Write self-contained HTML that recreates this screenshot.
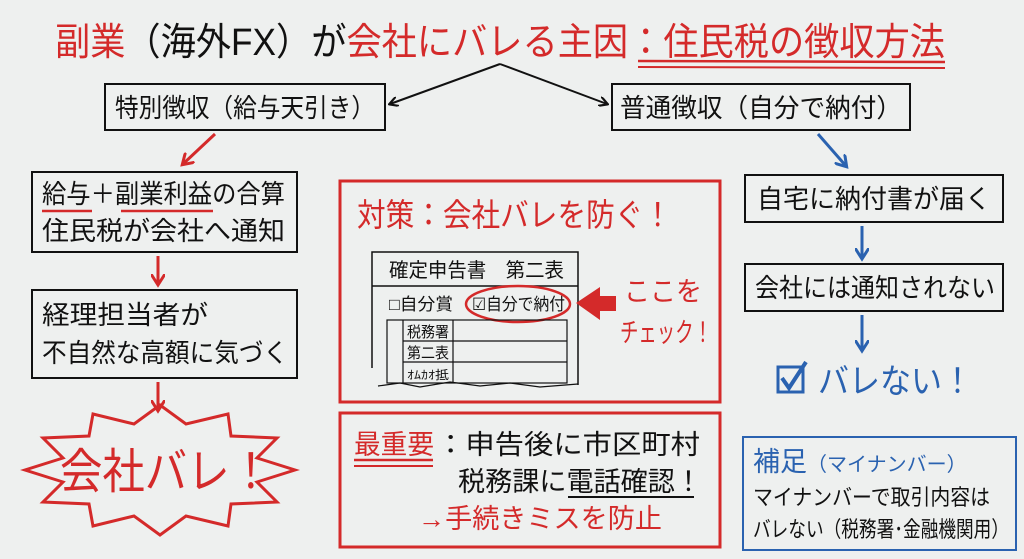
<!DOCTYPE html>
<html><head><meta charset="utf-8"><style>
html,body{margin:0;padding:0;background:#eef0ef;}
svg{display:block;}
text{font-family:"Liberation Sans","Noto Sans CJK JP",sans-serif;}
</style></head><body>
<svg width="1024" height="559" viewBox="0 0 1024 559" xmlns="http://www.w3.org/2000/svg">
<defs>
<marker id="ak" markerWidth="10" markerHeight="10" refX="8" refY="5" orient="auto" markerUnits="userSpaceOnUse"><path d="M0,0 L9,5 L0,10" fill="none" stroke="#111" stroke-width="2.2"/></marker>
<marker id="ar" markerWidth="14" markerHeight="14" refX="10" refY="7" orient="auto" markerUnits="userSpaceOnUse"><path d="M0,0 L11,7 L0,14" fill="none" stroke="#d42a2a" stroke-width="3"/></marker>
<marker id="ab" markerWidth="14" markerHeight="14" refX="10" refY="7" orient="auto" markerUnits="userSpaceOnUse"><path d="M0,0 L11,7 L0,14" fill="none" stroke="#2a62b0" stroke-width="3"/></marker>
</defs>
<rect width="1024" height="559" fill="#eef0ef"/>
<!-- title -->
<text x="55" y="55" font-size="38" textLength="890" lengthAdjust="spacingAndGlyphs"><tspan fill="#d42a2a">副業</tspan><tspan fill="#111">（海外FX）が</tspan><tspan fill="#d42a2a">会社にバレる主因：住民税の徴収方法</tspan></text>
<line x1="638" y1="61" x2="945" y2="62" stroke="#d42a2a" stroke-width="2.5"/>
<line x1="638" y1="67" x2="945" y2="68" stroke="#d42a2a" stroke-width="2"/>
<!-- top arrows -->
<line x1="500" y1="64" x2="390" y2="104" stroke="#111" stroke-width="2" marker-end="url(#ak)"/>
<line x1="500" y1="64" x2="607" y2="104" stroke="#111" stroke-width="2" marker-end="url(#ak)"/>
<rect x="105" y="84" width="280" height="46" fill="none" stroke="#111" stroke-width="2"/>
<text x="115" y="117" font-size="26" textLength="260" lengthAdjust="spacingAndGlyphs" fill="#111">特別徴収（給与天引き）</text>
<rect x="612" y="84" width="298" height="46" fill="none" stroke="#111" stroke-width="2"/>
<text x="620" y="117" font-size="26" textLength="282" lengthAdjust="spacingAndGlyphs" fill="#111">普通徴収（自分で納付）</text>
<!-- left column -->
<line x1="215" y1="134" x2="183" y2="164" stroke="#d42a2a" stroke-width="3" marker-end="url(#ar)"/>
<rect x="32" y="172" width="265" height="80" fill="none" stroke="#111" stroke-width="2"/>
<text x="42" y="203" font-size="26" textLength="243" lengthAdjust="spacingAndGlyphs" fill="#111">給与＋副業利益の合算</text>
<line x1="42" y1="211" x2="92" y2="211" stroke="#d42a2a" stroke-width="2.5"/>
<line x1="121" y1="211" x2="213" y2="211" stroke="#d42a2a" stroke-width="2.5"/>
<text x="42" y="240" font-size="26" textLength="243" lengthAdjust="spacingAndGlyphs" fill="#111">住民税が会社へ通知</text>
<line x1="158" y1="256" x2="158" y2="284" stroke="#d42a2a" stroke-width="3" marker-end="url(#ar)"/>
<rect x="32" y="290" width="265" height="88" fill="none" stroke="#111" stroke-width="2"/>
<text x="42" y="324" font-size="26" textLength="166" lengthAdjust="spacingAndGlyphs" fill="#111">経理担当者が</text>
<text x="42" y="362" font-size="26" textLength="246" lengthAdjust="spacingAndGlyphs" fill="#111">不自然な高額に気づく</text>
<line x1="158" y1="382" x2="158" y2="410" stroke="#d42a2a" stroke-width="3" marker-end="url(#ar)"/>
<polygon points="295,470 257,482 277,502 231,504 228,526 186,516 160,535 134,516 93,526 89,504 43,502 63,482 25,470 63,458 43,438 89,436 93,414 134,424 160,405 186,424 228,414 231,436 277,438 257,458" fill="none" stroke="#d42a2a" stroke-width="3"/>
<text x="60" y="488" font-size="48" textLength="212" lengthAdjust="spacingAndGlyphs" fill="#d42a2a">会社バレ！</text>
<!-- center box 1 -->
<rect x="340" y="181" width="380" height="221" fill="none" stroke="#d42a2a" stroke-width="3"/>
<text x="357" y="226" font-size="32" textLength="315" lengthAdjust="spacingAndGlyphs" fill="#d42a2a">対策：会社バレを防ぐ！</text>
<polyline points="372,368 372,252 578,252 578,385" fill="none" stroke="#111" stroke-width="1.5"/>
<line x1="372" y1="286" x2="578" y2="286" stroke="#111" stroke-width="1.5"/>
<path d="M378,386 L400,383 L420,387 L450,382 L480,386 L510,383 L540,387 L578,384" fill="none" stroke="#111" stroke-width="1.2"/>
<text x="389" y="277" font-size="20" textLength="175" lengthAdjust="spacingAndGlyphs" fill="#111">確定申告書　第二表</text>
<text x="389" y="310" font-size="17" textLength="64" lengthAdjust="spacingAndGlyphs" fill="#111">□自分賞</text>
<text x="472" y="310" font-size="17" textLength="93" lengthAdjust="spacingAndGlyphs" fill="#111">☑自分で納付</text>
<ellipse cx="518" cy="304" rx="52" ry="18" fill="none" stroke="#d42a2a" stroke-width="2.5"/>
<rect x="387" y="320" width="180" height="63" fill="none" stroke="#111" stroke-width="1.2"/>
<line x1="403" y1="320" x2="403" y2="383" stroke="#111" stroke-width="1.2"/>
<line x1="453" y1="320" x2="453" y2="383" stroke="#111" stroke-width="1.2"/>
<line x1="403" y1="341" x2="567" y2="341" stroke="#111" stroke-width="1.2"/>
<line x1="403" y1="362" x2="567" y2="362" stroke="#111" stroke-width="1.2"/>
<text x="407" y="337" font-size="15" textLength="42" lengthAdjust="spacingAndGlyphs" fill="#111">税務署</text>
<text x="407" y="358" font-size="15" textLength="42" lengthAdjust="spacingAndGlyphs" fill="#111">第二表</text>
<text x="407" y="379" font-size="12" textLength="42" lengthAdjust="spacingAndGlyphs" fill="#111">ｵﾑｶｵ抵</text>
<polygon points="576,303 600,287 600,296 616,296 616,311 600,311 600,320" fill="#d42a2a"/>
<text x="624" y="301" font-size="27" textLength="78" lengthAdjust="spacingAndGlyphs" fill="#d42a2a">ここを</text>
<text x="620" y="342" font-size="27" textLength="92" lengthAdjust="spacingAndGlyphs" fill="#d42a2a">チェック！</text>
<!-- center box 2 -->
<rect x="340" y="413" width="380" height="134" fill="none" stroke="#d42a2a" stroke-width="3"/>
<text x="354" y="454" font-size="27" textLength="80" lengthAdjust="spacingAndGlyphs" fill="#d42a2a">最重要</text>
<line x1="354" y1="460" x2="433" y2="460" stroke="#d42a2a" stroke-width="2.5"/>
<line x1="354" y1="466" x2="433" y2="466" stroke="#d42a2a" stroke-width="2"/>
<text x="436" y="454" font-size="27" textLength="264" lengthAdjust="spacingAndGlyphs" fill="#111">：申告後に市区町村</text>
<text x="458" y="491" font-size="27" textLength="244" lengthAdjust="spacingAndGlyphs" fill="#111">税務課に電話確認！</text>
<line x1="568" y1="497" x2="694" y2="497" stroke="#111" stroke-width="2"/>
<text x="418" y="528" font-size="27" textLength="244" lengthAdjust="spacingAndGlyphs" fill="#d42a2a">→手続きミスを防止</text>
<!-- right column -->
<line x1="818" y1="134" x2="846" y2="166" stroke="#2a62b0" stroke-width="3" marker-end="url(#ab)"/>
<rect x="745" y="175" width="258" height="47" fill="none" stroke="#111" stroke-width="2"/>
<text x="757" y="208" font-size="26" textLength="234" lengthAdjust="spacingAndGlyphs" fill="#111">自宅に納付書が届く</text>
<line x1="862" y1="226" x2="862" y2="258" stroke="#2a62b0" stroke-width="3" marker-end="url(#ab)"/>
<rect x="745" y="264" width="258" height="47" fill="none" stroke="#111" stroke-width="2"/>
<text x="755" y="297" font-size="26" textLength="240" lengthAdjust="spacingAndGlyphs" fill="#111">会社には通知されない</text>
<line x1="862" y1="315" x2="862" y2="350" stroke="#2a62b0" stroke-width="3" marker-end="url(#ab)"/>
<rect x="778" y="367" width="25" height="25" fill="none" stroke="#2a62b0" stroke-width="3"/>
<path d="M782,378 L789,388 L806,362" fill="none" stroke="#2a62b0" stroke-width="4"/>
<text x="818" y="393" font-size="34" textLength="155" lengthAdjust="spacingAndGlyphs" fill="#2a62b0">バレない！</text>
<rect x="743" y="437" width="273" height="113" fill="none" stroke="#2a62b0" stroke-width="2"/>
<text x="753" y="471" font-size="27" fill="#2a62b0"><tspan>補足</tspan><tspan font-size="20">（マイナンバー）</tspan></text>
<text x="753" y="505" font-size="22" textLength="237" lengthAdjust="spacingAndGlyphs" fill="#111">マイナンバーで取引内容は</text>
<text x="753" y="537" font-size="22" textLength="256" lengthAdjust="spacingAndGlyphs" fill="#111">バレない（税務署･金融機関用）</text>
</svg>
</body></html>
